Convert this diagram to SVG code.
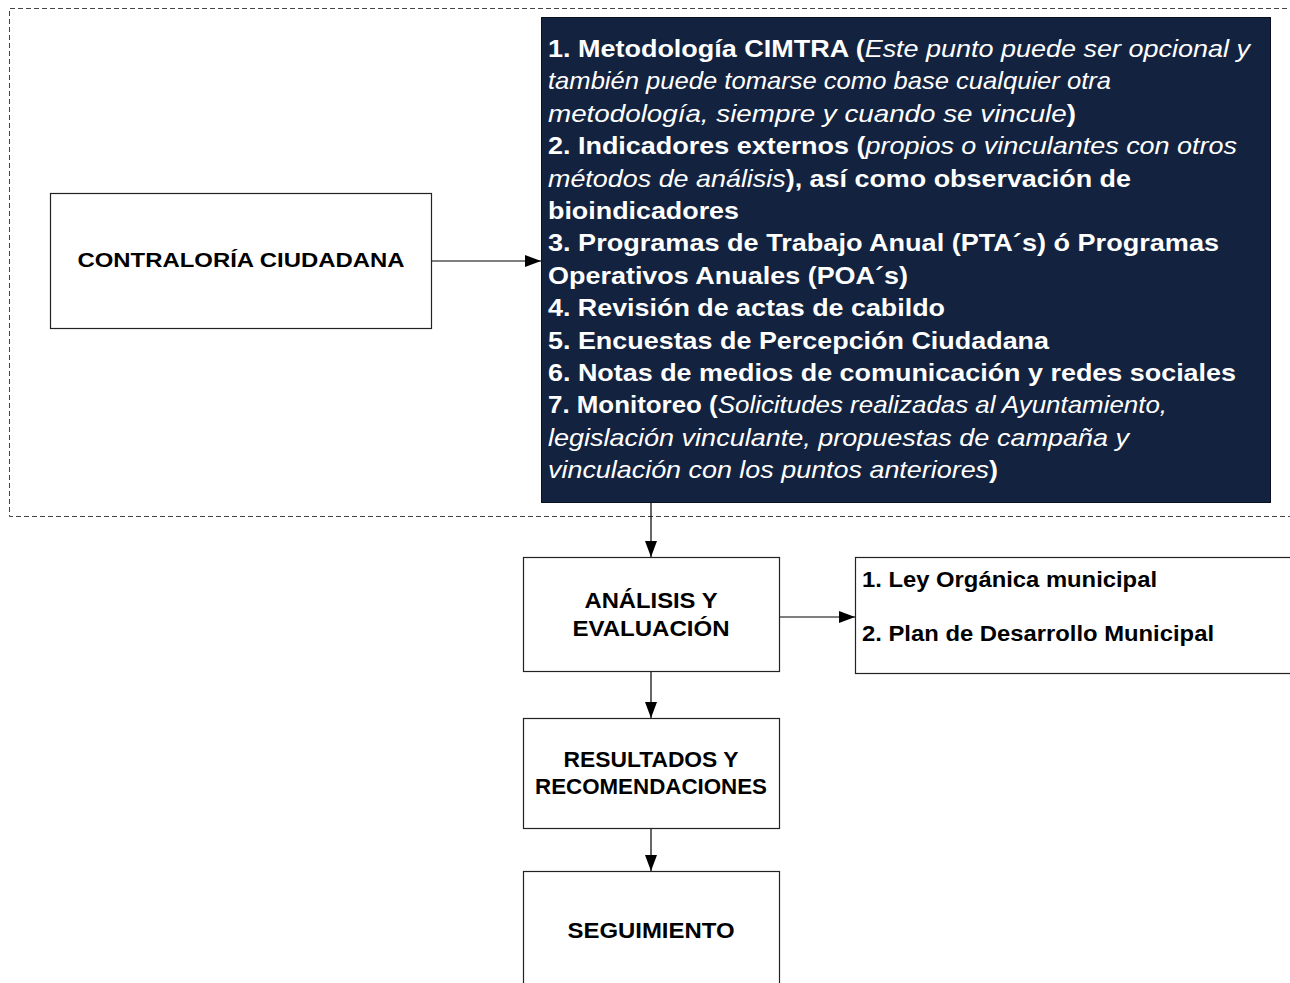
<svg xmlns="http://www.w3.org/2000/svg" width="1290" height="983" viewBox="0 0 1290 983">
<defs>
<style>
.box{fill:#fff;stroke:#222;stroke-width:1.2}
.lbl{font-family:"Liberation Sans",Arial,sans-serif;font-weight:bold;font-size:22px;fill:#000;text-anchor:middle}
.dk{font-family:"Liberation Sans",Arial,sans-serif;font-size:24px;fill:#fff}
.b{font-weight:bold}
.i{font-style:italic}
.rt{font-family:"Liberation Sans",Arial,sans-serif;font-weight:bold;font-size:22px;fill:#000}
.con{stroke:#000;stroke-width:1.2;fill:none;marker-end:url(#ah)}
</style>
<marker id="ah" viewBox="0 0 16 12" refX="16" refY="6" markerWidth="16" markerHeight="12" markerUnits="userSpaceOnUse" orient="auto">
<path d="M0,0 L16,6 L0,12 Z" fill="#000"/>
</marker>
</defs>
<rect width="1290" height="983" fill="#fff"/>
<g id="frame">
<path d="M1295,8.5 H9.5 V516.5 H1295" fill="none" stroke="#444" stroke-width="1" stroke-dasharray="5,3"/>
</g>
<g id="connectors">
<line class="con" x1="432" y1="261" x2="541" y2="261"/>
<line class="con" x1="651" y1="503" x2="651" y2="557"/>
<line class="con" x1="779" y1="617" x2="855" y2="617"/>
<line class="con" x1="651" y1="671" x2="651" y2="718"/>
<line class="con" x1="651" y1="828" x2="651" y2="871"/>
</g>
<g id="contraloria">
<rect class="box" x="50.5" y="193.5" width="381" height="135"/>
<text class="lbl" x="241" y="267" font-size="20" style="font-size:20px" textLength="327" lengthAdjust="spacingAndGlyphs">CONTRALORÍA CIUDADANA</text>
</g>
<g id="fuentes">
<rect x="541.5" y="17.5" width="729" height="485" fill="#13233F" stroke="#0a1020" stroke-width="1"/>
<text class="dk" x="548" y="57" textLength="702" lengthAdjust="spacingAndGlyphs"><tspan class="b">1. Metodología CIMTRA (</tspan><tspan class="i">Este punto puede ser opcional y</tspan></text>
<text class="dk i" x="548" y="89.4" textLength="563" lengthAdjust="spacingAndGlyphs">también puede tomarse como base cualquier otra</text>
<text class="dk" x="548" y="121.8" textLength="528" lengthAdjust="spacingAndGlyphs"><tspan class="i">metodología, siempre y cuando se vincule</tspan><tspan class="b">)</tspan></text>
<text class="dk" x="548" y="154.2" textLength="689" lengthAdjust="spacingAndGlyphs"><tspan class="b">2. Indicadores externos (</tspan><tspan class="i">propios o vinculantes con otros</tspan></text>
<text class="dk" x="548" y="186.6" textLength="583" lengthAdjust="spacingAndGlyphs"><tspan class="i">métodos de análisis</tspan><tspan class="b">), así como observación de</tspan></text>
<text class="dk b" x="548" y="219" textLength="191" lengthAdjust="spacingAndGlyphs">bioindicadores</text>
<text class="dk b" x="548" y="251.4" textLength="671" lengthAdjust="spacingAndGlyphs">3. Programas de Trabajo Anual (PTA´s) ó Programas</text>
<text class="dk b" x="548" y="283.8" textLength="360" lengthAdjust="spacingAndGlyphs">Operativos Anuales (POA´s)</text>
<text class="dk b" x="548" y="316.2" textLength="397" lengthAdjust="spacingAndGlyphs">4. Revisión de actas de cabildo</text>
<text class="dk b" x="548" y="348.6" textLength="501" lengthAdjust="spacingAndGlyphs">5. Encuestas de Percepción Ciudadana</text>
<text class="dk b" x="548" y="381" textLength="688" lengthAdjust="spacingAndGlyphs">6. Notas de medios de comunicación y redes sociales</text>
<text class="dk" x="548" y="413.4" textLength="619" lengthAdjust="spacingAndGlyphs"><tspan class="b">7. Monitoreo (</tspan><tspan class="i">Solicitudes realizadas al Ayuntamiento,</tspan></text>
<text class="dk i" x="548" y="445.8" textLength="581" lengthAdjust="spacingAndGlyphs">legislación vinculante, propuestas de campaña y</text>
<text class="dk" x="548" y="478.2" textLength="450" lengthAdjust="spacingAndGlyphs"><tspan class="i">vinculación con los puntos anteriores</tspan><tspan class="b">)</tspan></text>
</g>
<g id="analisis">
<rect class="box" x="523.5" y="557.5" width="256" height="114"/>
<text class="lbl" x="651" y="608" textLength="133" lengthAdjust="spacingAndGlyphs">ANÁLISIS Y</text>
<text class="lbl" x="651" y="636" textLength="157" lengthAdjust="spacingAndGlyphs">EVALUACIÓN</text>
</g>
<g id="marco">
<rect class="box" x="855.5" y="557.5" width="440" height="116"/>
<text class="rt" x="862" y="587" textLength="295" lengthAdjust="spacingAndGlyphs">1. Ley Orgánica municipal</text>
<text class="rt" x="862" y="641" textLength="352" lengthAdjust="spacingAndGlyphs">2. Plan de Desarrollo Municipal</text>
</g>
<g id="resultados">
<rect class="box" x="523.5" y="718.5" width="256" height="110"/>
<text class="lbl" x="651" y="767" textLength="175" lengthAdjust="spacingAndGlyphs">RESULTADOS Y</text>
<text class="lbl" x="651" y="794" textLength="232" lengthAdjust="spacingAndGlyphs">RECOMENDACIONES</text>
</g>
<g id="seguimiento">
<rect class="box" x="523.5" y="871.5" width="256" height="120"/>
<text class="lbl" x="651" y="938" textLength="167" lengthAdjust="spacingAndGlyphs">SEGUIMIENTO</text>
</g>
</svg>
